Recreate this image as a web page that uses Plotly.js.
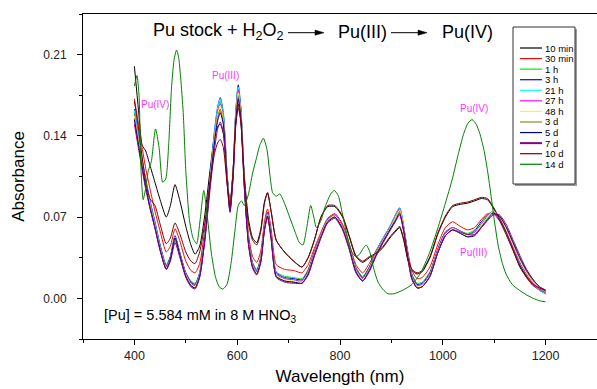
<!DOCTYPE html>
<html><head><meta charset="utf-8">
<script src="https://cdn.plot.ly/plotly-3.0.1.min.js"></script>
<style>html,body{margin:0;padding:0;background:#fff}#chart{width:597px;height:389px}</style>
</head><body><div id="chart"></div>
<script>
// Shared wavelength grid (nm) for Pu(III)-stage spectra
const wl = [400,408,415,422,430,440,450,462,470,479,488,500,510,518,527,537,547,556,562,567,573,580,586,592,597,602,607,614,622,630,638,646,653,659,666,676,692,710,726,738,750,763,776,790,805,818,831,844,857,870,884,897,909,916,924,932,940,950,960,975,990,1005,1019,1034,1048,1062,1075,1087,1098,1110,1123,1137,1150,1163,1176,1188,1200];

const a10min = [0.200,0.162,0.132,0.127,0.115, 0.100,0.085,0.070,0.080,0.098, 0.085,0.062,0.046,0.038,0.045, 0.072,0.110,0.140,0.148,0.150, 0.142,0.108,0.082,0.110,0.150, 0.167,0.155,0.105,0.068,0.052, 0.048,0.060,0.083,0.091,0.075, 0.050,0.040,0.032,0.027,0.035, 0.050,0.070,0.079,0.079,0.070, 0.053,0.036,0.031,0.035,0.038, 0.044,0.052,0.058,0.061,0.050, 0.033,0.024,0.021,0.023,0.035, 0.055,0.070,0.079,0.081,0.082, 0.084,0.086,0.085,0.078,0.068, 0.056,0.041,0.027,0.018,0.011, 0.008,0.006];
const a30min = [0.172,0.150,0.130,0.112,0.095, 0.075,0.058,0.040,0.045,0.060, 0.050,0.032,0.024,0.022,0.030, 0.060,0.103,0.140,0.157,0.163, 0.153,0.107,0.079,0.108,0.155, 0.175,0.160,0.100,0.055,0.036, 0.031,0.041,0.066,0.077,0.060, 0.029,0.025,0.024,0.022,0.029, 0.043,0.057,0.069,0.073,0.064, 0.047,0.029,0.022,0.030,0.041, 0.052,0.061,0.071,0.075,0.060, 0.040,0.024,0.017,0.018,0.027, 0.046,0.061,0.066,0.062,0.059, 0.061,0.068,0.073,0.073,0.067, 0.055,0.041,0.028,0.018,0.011, 0.007,0.004];
const a1h = [0.160,0.138,0.118,0.101,0.084, 0.065,0.046,0.029,0.036,0.053, 0.040,0.022,0.015,0.013,0.022, 0.054,0.101,0.142,0.162,0.170, 0.157,0.108,0.078,0.109,0.158, 0.181,0.163,0.099,0.050,0.031, 0.025,0.036,0.062,0.073,0.055, 0.023,0.019,0.018,0.017,0.025, 0.040,0.055,0.067,0.071,0.062, 0.045,0.027,0.019,0.027,0.040, 0.051,0.061,0.071,0.076,0.061, 0.038,0.021,0.013,0.014,0.023, 0.042,0.057,0.061,0.058,0.056, 0.059,0.066,0.072,0.074,0.069, 0.057,0.043,0.030,0.020,0.013, 0.008,0.005];
const a3h = [0.163,0.140,0.120,0.103,0.085, 0.066,0.046,0.028,0.036,0.054, 0.040,0.022,0.014,0.012,0.022, 0.055,0.103,0.145,0.165,0.173, 0.160,0.110,0.078,0.110,0.160, 0.184,0.165,0.100,0.050,0.030, 0.024,0.035,0.062,0.074,0.055, 0.022,0.018,0.017,0.016,0.024, 0.040,0.055,0.068,0.072,0.062, 0.045,0.026,0.018,0.027,0.040, 0.052,0.062,0.073,0.078,0.062, 0.038,0.020,0.012,0.013,0.022, 0.042,0.057,0.061,0.058,0.055, 0.058,0.066,0.072,0.074,0.068, 0.056,0.042,0.029,0.019,0.012, 0.007,0.004];
const a21h = [0.162,0.139,0.119,0.102,0.084, 0.065,0.045,0.027,0.035,0.053, 0.039,0.021,0.013,0.011,0.021, 0.054,0.102,0.144,0.164,0.172, 0.159,0.109,0.077,0.109,0.159, 0.182,0.164,0.099,0.049,0.029, 0.023,0.034,0.061,0.073,0.054, 0.021,0.017,0.016,0.015,0.023, 0.039,0.055,0.068,0.072,0.062, 0.045,0.025,0.017,0.026,0.040, 0.052,0.062,0.073,0.078,0.062, 0.037,0.019,0.011,0.012,0.021, 0.041,0.056,0.061,0.058,0.055, 0.057,0.065,0.072,0.075,0.069, 0.057,0.043,0.030,0.020,0.012, 0.007,0.004];
const a27h = [0.158,0.136,0.117,0.100,0.082, 0.063,0.044,0.027,0.035,0.052, 0.039,0.021,0.013,0.011,0.021, 0.053,0.100,0.141,0.160,0.168, 0.156,0.107,0.077,0.108,0.157, 0.179,0.162,0.098,0.049,0.029, 0.023,0.034,0.061,0.073,0.054, 0.021,0.017,0.016,0.015,0.023, 0.039,0.055,0.068,0.072,0.062, 0.045,0.025,0.017,0.026,0.039, 0.051,0.061,0.072,0.077,0.061, 0.037,0.019,0.011,0.012,0.021, 0.041,0.056,0.061,0.058,0.055, 0.057,0.064,0.071,0.075,0.070, 0.058,0.044,0.031,0.021,0.013, 0.008,0.005];
const a48h = [0.157,0.135,0.116,0.099,0.081, 0.062,0.043,0.026,0.034,0.051, 0.038,0.020,0.012,0.010,0.020, 0.052,0.099,0.139,0.158,0.166, 0.154,0.106,0.076,0.107,0.155, 0.177,0.160,0.097,0.048,0.028, 0.022,0.033,0.060,0.072,0.053, 0.020,0.016,0.015,0.014,0.022, 0.038,0.054,0.067,0.071,0.061, 0.044,0.024,0.016,0.025,0.038, 0.050,0.060,0.071,0.076,0.060, 0.036,0.018,0.010,0.011,0.020, 0.040,0.055,0.060,0.057,0.054, 0.056,0.063,0.070,0.075,0.071, 0.060,0.046,0.033,0.022,0.014, 0.009,0.006];
const a3d = [0.155,0.133,0.114,0.097,0.080, 0.061,0.042,0.025,0.033,0.050, 0.037,0.019,0.011,0.009,0.019, 0.051,0.098,0.137,0.156,0.162, 0.152,0.105,0.075,0.106,0.153, 0.174,0.158,0.096,0.047,0.027, 0.021,0.032,0.059,0.071,0.052, 0.019,0.015,0.014,0.013,0.021, 0.037,0.053,0.066,0.070,0.060, 0.043,0.023,0.015,0.024,0.037, 0.049,0.059,0.069,0.074,0.059, 0.035,0.017,0.009,0.010,0.019, 0.039,0.054,0.059,0.056,0.053, 0.055,0.062,0.069,0.074,0.071, 0.061,0.047,0.034,0.023,0.015, 0.009,0.006];
const a5d = [0.154,0.132,0.113,0.096,0.079, 0.061,0.042,0.025,0.034,0.052, 0.038,0.019,0.011,0.009,0.019, 0.051,0.097,0.135,0.153,0.160, 0.150,0.104,0.075,0.105,0.151, 0.172,0.156,0.095,0.047,0.027, 0.021,0.032,0.059,0.071,0.052, 0.019,0.015,0.014,0.013,0.021, 0.037,0.053,0.066,0.070,0.060, 0.043,0.023,0.015,0.024,0.037, 0.049,0.059,0.068,0.073,0.058, 0.035,0.017,0.009,0.010,0.019, 0.039,0.054,0.059,0.056,0.053, 0.054,0.061,0.068,0.073,0.071, 0.062,0.048,0.035,0.024,0.016, 0.010,0.007];
const a7d = [0.150,0.129,0.111,0.094,0.078, 0.060,0.041,0.025,0.032,0.048, 0.036,0.018,0.010,0.008,0.018, 0.049,0.093,0.129,0.146,0.152, 0.143,0.101,0.074,0.103,0.147, 0.168,0.153,0.094,0.046,0.026, 0.020,0.031,0.058,0.070,0.051, 0.018,0.014,0.013,0.013,0.020, 0.036,0.052,0.065,0.069,0.059, 0.042,0.022,0.015,0.023,0.036, 0.048,0.058,0.067,0.072,0.057, 0.034,0.016,0.009,0.010,0.019, 0.039,0.054,0.059,0.057,0.055, 0.055,0.061,0.067,0.072,0.072, 0.064,0.050,0.037,0.025,0.016, 0.010,0.007];
const a10d = [0.170,0.146,0.122,0.100,0.086, 0.080,0.064,0.047,0.052,0.065, 0.056,0.040,0.032,0.030,0.040, 0.065,0.100,0.125,0.134,0.137, 0.130,0.100,0.080,0.110,0.150, 0.164,0.152,0.102,0.064,0.050, 0.046,0.058,0.082,0.091,0.075, 0.050,0.040,0.032,0.027,0.035, 0.050,0.070,0.080,0.080,0.071, 0.054,0.037,0.032,0.036,0.039, 0.045,0.053,0.059,0.062,0.051, 0.034,0.025,0.022,0.024,0.036, 0.056,0.071,0.080,0.082,0.083, 0.085,0.087,0.086,0.079,0.069, 0.057,0.042,0.028,0.019,0.012, 0.009,0.007];

// 14 d spectrum (Pu(IV)) on its own finer grid
const wl14 = [400,405,409,413,417,422,427,433,441,448,455,461,467,472,477,482,486,490,495,500,507,514,521,528,535,542,550,558,565,572,580,588,596,602,608,614,622,630,637,644,651,658,664,669,676,683,692,702,712,721,728,735,743,749,754,762,772,782,789,797,806,815,823,831,838,845,851,858,866,874,883,893,905,922,940,957,974,990,1005,1018,1030,1040,1049,1057,1065,1072,1080,1087,1094,1100,1108,1116,1123,1135,1149,1163,1176,1188,1200];
const a14d = [0.183,0.192,0.175,0.110,0.085,0.095,0.110,0.118,0.146,0.130,0.100,0.103,0.135,0.180,0.205,0.214,0.208,0.190,0.160,0.110,0.068,0.052,0.047,0.068,0.093,0.070,0.038,0.018,0.010,0.008,0.012,0.030,0.060,0.080,0.084,0.080,0.090,0.108,0.120,0.132,0.138,0.128,0.105,0.091,0.088,0.090,0.082,0.070,0.058,0.048,0.046,0.060,0.080,0.070,0.061,0.066,0.080,0.090,0.093,0.088,0.070,0.052,0.040,0.036,0.038,0.043,0.046,0.040,0.025,0.014,0.008,0.004,0.004,0.007,0.012,0.022,0.039,0.060,0.082,0.102,0.124,0.141,0.151,0.154,0.150,0.142,0.128,0.110,0.088,0.068,0.045,0.030,0.021,0.012,0.007,0.003,0.000,-0.002,-0.003];

const seriesNames = ['10 min','30 min','1 h','3 h','21 h','27 h','48 h','3 d','5 d','7 d','10 d','14 d'];
const seriesX = [wl,wl,wl,wl,wl,wl,wl,wl,wl,wl,wl,wl14];
const seriesY = [a10min,a30min,a1h,a3h,a21h,a27h,a48h,a3d,a5d,a7d,a10d,a14d];
const seriesColors = ['#000000','#ff0000','#00ee00','#0000ff','#00ffff','#ff00ff','#ffff00','#8c8c30','#000080','#8a008a','#800000','#008000'];

const xTicks = [400,600,800,1000,1200];
const yTicks = [0.00,0.07,0.14,0.21];

const FONT = 'Liberation Sans, Arial, sans-serif';
const L=83, T=14, W=514, H=325;
const px = p => (p-L)/W;
const py = p => (T+H-p)/H;

const traces = seriesNames.map((n,i)=>({
  x: seriesX[i], y: seriesY[i], name: n, type:'scatter', mode:'lines',
  line:{color:seriesColors[i], width:1, shape:'spline', smoothing:0.6},
  showlegend:false, hoverinfo:'skip'
}));

const shapes = [];
const annotations = [];

// legend box (manual, compact)
shapes.push({type:'rect',xref:'paper',yref:'paper',x0:px(515),x1:px(577),y0:py(29),y1:py(186),fillcolor:'#9a9a9a',line:{width:0},layer:'above'});
shapes.push({type:'rect',xref:'paper',yref:'paper',x0:px(513),x1:px(575),y0:py(27),y1:py(184),fillcolor:'#ffffff',line:{color:'#333',width:1},layer:'above'});
seriesNames.forEach((n,i)=>{
  const yy = 48 + i*10.57;
  shapes.push({type:'line',xref:'paper',yref:'paper',x0:px(520),x1:px(542),y0:py(yy),y1:py(yy),line:{color:seriesColors[i],width:(i===9?2:1.2)},layer:'above'});
  annotations.push({xref:'paper',yref:'paper',x:px(543),y:py(yy),text:n,showarrow:false,xanchor:'left',yanchor:'middle',font:{family:FONT,size:9.5,color:'#000'}});
});

// reaction scheme
const tf = {family:FONT,size:18,color:'#000'};
annotations.push({xref:'paper',yref:'paper',x:px(151),y:py(32),text:'Pu stock + H<sub>2</sub>O<sub>2</sub>',showarrow:false,xanchor:'left',yanchor:'middle',font:tf});
annotations.push({xref:'paper',yref:'paper',x:px(336),y:py(32),text:'Pu(III)',showarrow:false,xanchor:'left',yanchor:'middle',font:tf});
annotations.push({xref:'paper',yref:'paper',x:px(440),y:py(32),text:'Pu(IV)',showarrow:false,xanchor:'left',yanchor:'middle',font:tf});
[[288,324],[391,427]].forEach(([a,b])=>{
  const ay=32.7;
  shapes.push({type:'line',xref:'paper',yref:'paper',x0:px(a),x1:px(b-6),y0:py(ay),y1:py(ay),line:{color:'#000',width:1}});
  shapes.push({type:'path',xref:'paper',yref:'paper',path:`M ${px(b)},${py(ay)} L ${px(b-9)},${py(ay-2.6)} L ${px(b-9)},${py(ay+2.6)} Z`,fillcolor:'#000',line:{color:'#000',width:0.5}});
});

// band labels
const mf = {family:FONT,size:10,color:'#ff33ff'};
[[155,104,'Pu(IV)'],[225,75,'Pu(III)'],[474,109,'Pu(IV)'],[473,252,'Pu(III)']].forEach(([x,y,t])=>{
  annotations.push({xref:'paper',yref:'paper',x:px(x),y:py(y),text:t,showarrow:false,xanchor:'center',yanchor:'middle',font:mf});
});

annotations.push({xref:'paper',yref:'paper',x:px(102),y:py(316),text:'[Pu] = 5.584 mM in 8 M HNO<sub>3</sub>',showarrow:false,xanchor:'left',yanchor:'middle',font:{family:FONT,size:14.5,color:'#000'}});

const layout = {
  width:597, height:389,
  margin:{l:L, r:597-L-W, t:T, b:389-T-H, pad:0},
  paper_bgcolor:'#fff', plot_bgcolor:'#fff',
  showlegend:false,
  font:{family:FONT,color:'#000'},
  xaxis:{range:[300,1300], tickmode:'array', tickvals:xTicks, ticktext:xTicks.map(String),
    ticks:'outside', ticklen:5, tickwidth:1, tickcolor:'#000',
    minor:{tickvals:[300,500,700,900,1100,1300], ticks:'outside', ticklen:3, tickcolor:'#000'},
    showline:true, linecolor:'#000', linewidth:1, mirror:true, showgrid:false, zeroline:false,
    tickfont:{family:FONT,size:12.5,color:'#222'},
    title:{text:'Wavelength (nm)', font:{family:FONT,size:17,color:'#000'}, standoff:8}},
  yaxis:{range:[-0.035,0.245], tickmode:'array', tickvals:yTicks, ticktext:yTicks.map(v=>v.toFixed(2)),
    ticks:'outside', ticklen:5, tickwidth:1, tickcolor:'#000', ticklabelstandoff:8,
    minor:{tickvals:[-0.035,0.035,0.105,0.175,0.245], ticks:'outside', ticklen:3, tickcolor:'#000'},
    showline:true, linecolor:'#000', linewidth:1, mirror:false, showgrid:false, zeroline:false,
    tickfont:{family:FONT,size:12,color:'#222'},
    title:{text:'Absorbance', font:{family:FONT,size:17,color:'#000'}, standoff:14}},
  shapes:shapes, annotations:annotations
};
Plotly.newPlot('chart', traces, layout, {staticPlot:true, displayModeBar:false});
</script></body></html>
